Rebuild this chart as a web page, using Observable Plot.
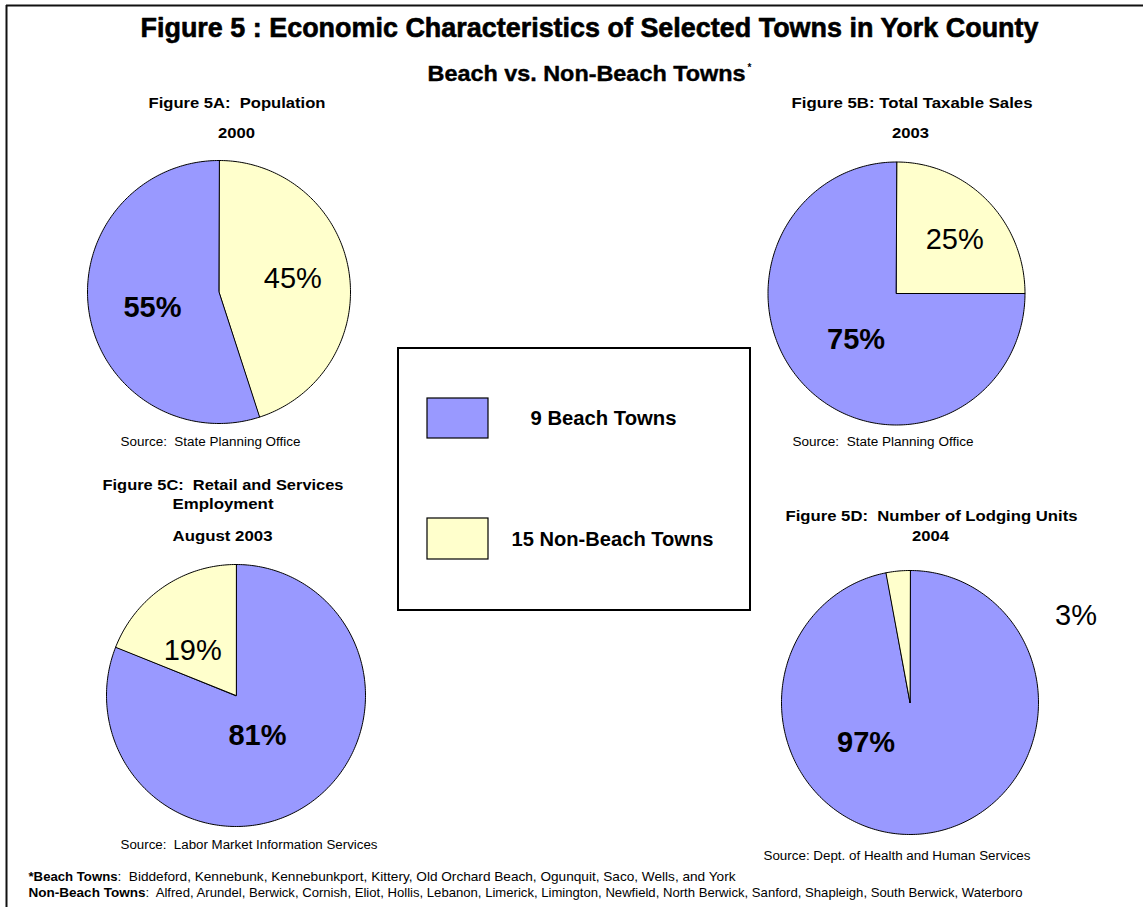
<!DOCTYPE html>
<html><head><meta charset="utf-8">
<script src="https://cdn.jsdelivr.net/npm/d3@7"></script>
<script src="https://cdn.jsdelivr.net/npm/@observablehq/plot@0.6"></script>
<style>
html,body{margin:0;padding:0;background:#fff;}
svg text{white-space:pre;}
</style></head><body><div id="chart"></div>
<script>
// ---------- data ----------
const categories = ["9 Beach Towns", "15 Non-Beach Towns"];
const colors = ["#9999ff", "#ffffcc"];
const populationShare = [55, 45];     // Figure 5A, 2000
const taxableSalesShare = [75, 25];   // Figure 5B, 2003
const employmentShare = [81, 19];     // Figure 5C, August 2003
const lodgingShare = [97, 3];         // Figure 5D, 2004
const beachTowns = ["Biddeford", "Kennebunk", "Kennebunkport", "Kittery", "Old Orchard Beach", "Ogunquit", "Saco", "Wells", "and York"];
const nonBeachTowns = ["Alfred", "Arundel", "Berwick", "Cornish", "Eliot", "Hollis", "Lebanon", "Limerick", "Limington", "Newfield", "North Berwick", "Sanford", "Shapleigh", "South Berwick", "Waterboro"];

// ---------- layout ----------
const W = 1143, H = 907;
const FONT = "Liberation Sans, Arial, Helvetica, sans-serif";
const pies = [
  {values: populationShare, cx: 218.5, cy: 291.5, rx: 131.5, ry: 131.5, order: [1, 0],
   lab: [{shift: -4.5, f: 0.52}, {shift: -1, f: 0.57}]},
  {values: taxableSalesShare, cx: 896, cy: 293, rx: 128.5, ry: 131.5, order: [1, 0],
   lab: [{shift: -3, f: 0.47}, {shift: 3, f: 0.61}]},
  {values: employmentShare, cx: 235.5, cy: 695, rx: 129.5, ry: 131, order: [0, 1],
   lab: [{shift: 6, f: 0.35}, {shift: -10, f: 0.48}]},
  {values: lodgingShare, cx: 909.5, cy: 702, rx: 128.5, ry: 132, order: [0, 1],
   lab: [{shift: 53.4, f: 0.46}, {shift: 68.4, f: 1.45}]}
];
const texts = [
  {text: "Figure 5 : Economic Characteristics of Selected Towns in York County", x: 589, y: 28, size: 27, w: 898, bold: true, heavy: 0.6, anchor: "middle"},
  {text: "Beach vs. Non-Beach Towns", x: 427, y: 73, size: 22, w: 318, bold: true, heavy: 0.4, anchor: "start"},
  {text: "*", x: 747, y: 67, size: 10, bold: true, anchor: "start"},
  {text: "Figure 5A:  Population", x: 236.5, y: 103, size: 15, w: 177, bold: true, anchor: "middle"},
  {text: "2000", x: 236, y: 133, size: 15, w: 37, bold: true, anchor: "middle"},
  {text: "Source:  State Planning Office", x: 210, y: 442, size: 12, w: 180, anchor: "middle"},
  {text: "Figure 5B: Total Taxable Sales", x: 911.5, y: 103, size: 15, w: 241, bold: true, anchor: "middle"},
  {text: "2003", x: 910, y: 133, size: 15, w: 37, bold: true, anchor: "middle"},
  {text: "Source:  State Planning Office", x: 882.5, y: 442, size: 12, w: 181, anchor: "middle"},
  {text: "Figure 5C:  Retail and Services", x: 222.5, y: 485, size: 15, w: 241, bold: true, anchor: "middle"},
  {text: "Employment", x: 222.5, y: 504, size: 15, w: 101, bold: true, anchor: "middle"},
  {text: "August 2003", x: 222, y: 536, size: 15, w: 100, bold: true, anchor: "middle"},
  {text: "Source:  Labor Market Information Services", x: 248.5, y: 845, size: 12, w: 257, anchor: "middle"},
  {text: "Figure 5D:  Number of Lodging Units", x: 931, y: 516, size: 15, w: 292, bold: true, anchor: "middle"},
  {text: "2004", x: 930, y: 536, size: 15, w: 37, bold: true, anchor: "middle"},
  {text: "Source: Dept. of Health and Human Services", x: 896.5, y: 856, size: 12, w: 267, anchor: "middle"},
  {text: "*Beach Towns", x: 28, y: 876, size: 13, w: 89, bold: true, anchor: "start"},
  {text: ":  " + beachTowns.join(", "), x: 117, y: 876, size: 13, w: 618, anchor: "start"},
  {text: "Non-Beach Towns", x: 28, y: 892, size: 13, w: 117, bold: true, anchor: "start"},
  {text: ":  " + nonBeachTowns.join(", "), x: 145, y: 892, size: 13, w: 877, anchor: "start"}
];
const legendLayout = {box: {x1: 398, x2: 750, y1: 348, y2: 610},
  sw: [{x1: 427, x2: 488, y1: 398, y2: 438}, {x1: 427, x2: 488, y1: 518, y2: 559}],
  lt: [{x: 603, y: 418, w: 146}, {x: 612, y: 539, w: 202}]};

// ---------- derived geometry ----------
const rad = d => d * Math.PI / 180;
const wedgePts = [];
const labels = [];
pies.forEach((p, pi) => {
  const total = d3.sum(p.values);
  let a = 0;
  p.order.forEach(ci => {
    const a0 = a, a1 = a + p.values[ci] / total * 360;
    a = a1;
    const id = pi + "-" + ci;
    wedgePts.push({id, cat: categories[ci], x: p.cx, y: p.cy});
    const n = Math.max(2, Math.ceil(a1 - a0));
    for (let k = 0; k <= n; k++) {
      const t = rad(a0 + (a1 - a0) * k / n);
      wedgePts.push({id, cat: categories[ci], x: p.cx + p.rx * Math.sin(t), y: p.cy - p.ry * Math.cos(t)});
    }
    const L = p.lab[ci];
    const am = rad((a0 + a1) / 2 + L.shift);
    labels.push({text: p.values[ci] + "%", bold: ci === 0,
      x: p.cx + L.f * p.rx * Math.sin(am), y: p.cy - L.f * p.ry * Math.cos(am)});
  });
});
const legendRows = categories.map((c, i) => ({cat: c, ...legendLayout.sw[i], tx: legendLayout.lt[i].x, ty: legendLayout.lt[i].y, w: legendLayout.lt[i].w}));

const textMarks = texts.map((t, i) => Plot.text([t], {
  x: "x", y: "y", text: "text", fontSize: t.size, fontWeight: t.bold ? "bold" : "normal",
  textAnchor: t.anchor, fontFamily: FONT, fill: "black", className: "tx" + i,
  ...(t.heavy ? {stroke: "black", strokeWidth: t.heavy} : {})
}));

const chart = Plot.plot({
  width: W, height: H, margin: 0,
  style: {background: "white", fontFamily: FONT},
  x: {domain: [0, W], range: [0, W], axis: null},
  y: {domain: [0, H], range: [0, H], axis: null},
  color: {domain: categories, range: colors},
  marks: [
    Plot.ruleX([6], {y1: 5, y2: H, stroke: "#111", strokeWidth: 2}),
    Plot.ruleY([5], {x1: 6, x2: W, stroke: "#111", strokeWidth: 2}),
    Plot.line(wedgePts, {x: "x", y: "y", z: "id", fill: "cat", stroke: "black", strokeWidth: 1, curve: "linear-closed"}),
    Plot.text(labels.filter(d => d.bold), {x: "x", y: "y", text: "text", fontSize: 29, fontWeight: "bold", fontFamily: FONT, fill: "black"}),
    Plot.text(labels.filter(d => !d.bold), {x: "x", y: "y", text: "text", fontSize: 29, fontFamily: FONT, fill: "black"}),
    Plot.rect([legendLayout.box], {x1: "x1", x2: "x2", y1: "y1", y2: "y2", fill: "none", stroke: "black", strokeWidth: 2}),
    Plot.rect(legendRows, {x1: "x1", x2: "x2", y1: "y1", y2: "y2", fill: "cat", stroke: "black", strokeWidth: 1.2}),
    Plot.text(legendRows, {x: "tx", y: "ty", text: "cat", fontSize: 20, fontWeight: "bold", fontFamily: FONT, fill: "black", className: "legtx"}),
    ...textMarks
  ]
});
document.getElementById("chart").appendChild(chart);

// fit text widths to the reference
texts.forEach((t, i) => {
  if (!t.w) return;
  chart.querySelectorAll("g.tx" + i + " text").forEach(el => {
    el.setAttribute("textLength", t.w);
    el.setAttribute("lengthAdjust", "spacingAndGlyphs");
  });
});
chart.querySelectorAll("g.legtx text").forEach((el, i) => {
  el.setAttribute("textLength", legendRows[i].w);
  el.setAttribute("lengthAdjust", "spacingAndGlyphs");
});
</script></body></html>
